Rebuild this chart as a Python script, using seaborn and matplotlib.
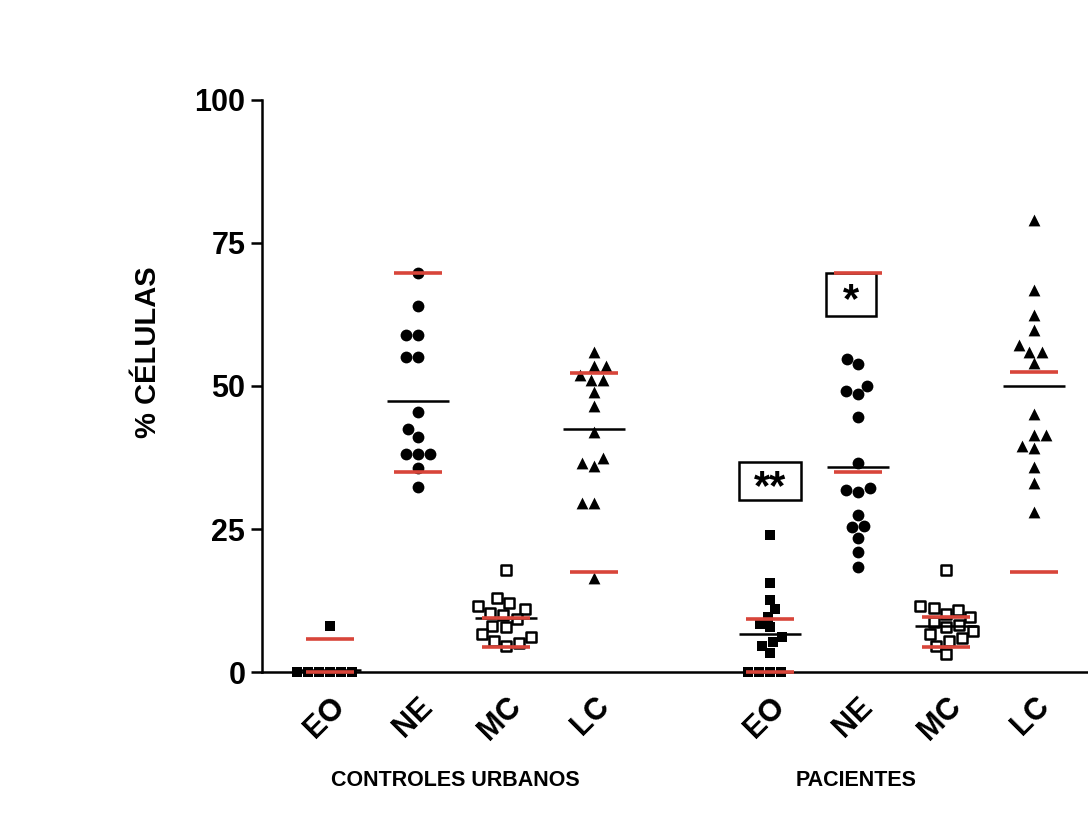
import numpy as np
import pandas as pd
import seaborn as sns
import matplotlib.pyplot as plt
from matplotlib.patches import Rectangle
from matplotlib.transforms import blended_transform_factory

sns.set_theme(style="ticks")
plt.rcParams['font.family'] = ['Liberation Sans', 'DejaVu Sans']
plt.rcParams['font.weight'] = 'bold'
for key in ["text.color", "axes.labelcolor", "xtick.color", "ytick.color", "axes.edgecolor"]:
    plt.rcParams[key] = "black"

# cell types and study groups
cell_types = ["EO", "NE", "MC", "LC"]
groups = ["CONTROLES URBANOS", "PACIENTES"]

# percentage of each cell type per subject
ctrl_eo = [8.0, 0.0, 0.0, 0.0, 0.0, 0.0, 0.0]
ctrl_ne = [69.8, 63.9, 58.9, 58.9, 55.0, 55.0, 45.4, 42.4, 41.1, 38.2, 38.2, 38.2, 35.6, 32.4]
ctrl_mc = [17.8, 13.0, 12.0, 11.5, 11.0, 10.3, 10.0, 9.2, 8.0, 7.8, 6.6, 6.2, 5.5, 5.0, 4.6]
ctrl_lc = [56.0, 53.5, 53.5, 52.0, 51.0, 51.0, 49.0, 46.5, 42.0, 37.5, 36.5, 36.0, 29.5, 29.5, 16.5]

pac_eo = [24.0, 15.5, 12.6, 11.0, 9.6, 8.4, 7.8, 6.1, 5.2, 4.6, 3.3, 0.0, 0.0, 0.0, 0.0]
pac_ne = [54.8, 53.8, 50.0, 49.2, 48.6, 44.5, 36.6, 32.1, 31.8, 31.5, 27.4, 25.5, 25.3, 23.5, 21.0, 18.4]
pac_mc = [17.8, 11.6, 11.2, 10.8, 10.2, 9.6, 8.8, 8.2, 7.8, 7.2, 6.6, 5.9, 5.4, 4.6, 3.1]
pac_lc = [79.1, 66.7, 62.4, 59.8, 57.1, 55.9, 55.9, 54.0, 45.1, 41.4, 41.4, 39.5, 39.1, 35.9, 33.0, 28.0]

# group means (black lines)
ctrl_means = [0.4, 47.4, 9.4, 42.5]
pac_means = [6.6, 35.8, 8.0, 50.0]

# reference limits (red lines): lower, upper
ctrl_ref_low = [0.0, 34.9, 4.4, 17.4]
ctrl_ref_high = [5.8, 69.8, 9.5, 52.2]
pac_ref_low = [0.0, 34.9, 4.4, 17.5]
pac_ref_high = [9.3, 69.7, 9.7, 52.4]

# significance marks for the patient group: (cell type, centre value, text)
sig_marks = [("EO", 33.4, "**"), ("NE", 66.0, "*")]

data = {
    groups[0]: [ctrl_eo, ctrl_ne, ctrl_mc, ctrl_lc],
    groups[1]: [pac_eo, pac_ne, pac_mc, pac_lc],
}

rows = []
for g, series in data.items():
    for t, vals in zip(cell_types, series):
        for v in vals:
            rows.append({"grupo": g, "tipo": t, "valor": v, "slot": f"{g}|{t}"})
df = pd.DataFrame(rows)

# two blocks of four columns with an empty slot between them
order = [f"{groups[0]}|{t}" for t in cell_types] + [""] + [f"{groups[1]}|{t}" for t in cell_types]

fig = plt.figure(figsize=(10.88, 8.31), dpi=100)
ax = fig.add_axes([0.2408, 0.1913, 0.7592, 0.6884])

marker_style = {
    "EO": dict(marker="s", color="black", linewidth=0, size=7.5),
    "NE": dict(marker="o", color="black", linewidth=0, size=8.5),
    "MC": dict(marker="s", color="white", edgecolor="black", linewidth=1.8, size=7.5),
    "LC": dict(marker="^", color="black", linewidth=0, size=8.5),
}

for t in cell_types:
    sub = df[df["tipo"] == t]
    sns.swarmplot(data=sub, x="slot", y="valor", order=order, ax=ax, zorder=3,
                  **marker_style[t])

for coll in ax.collections:
    coll.set_clip_on(False)

red = "#d8453a"
for g, means, lows, highs in [
    (groups[0], ctrl_means, ctrl_ref_low, ctrl_ref_high),
    (groups[1], pac_means, pac_ref_low, pac_ref_high),
]:
    for t, m, lo, hi in zip(cell_types, means, lows, highs):
        i = order.index(f"{g}|{t}")
        ax.hlines([lo, hi], i - 0.27, i + 0.27, colors=red, linewidth=2.6, zorder=6, clip_on=False)
        ax.hlines(m, i - 0.35, i + 0.35, colors="black", linewidth=1.8, zorder=4, clip_on=False)

# boxed significance asterisks
box_size = {"**": (0.70, 6.6, 0.0), "*": (0.57, 7.5, -0.08)}
for t, y, txt in sig_marks:
    w, h, dx = box_size[txt]
    i = order.index(f"{groups[1]}|{t}") + dx
    ax.add_patch(Rectangle((i - w / 2, y - h / 2), w, h, facecolor="white",
                           edgecolor="black", linewidth=1.8, zorder=5))
    fs = 30
    ax.annotate(txt, xy=(i, y), xytext=(0, -0.43 * fs), textcoords="offset points",
                ha="center", va="baseline", fontsize=fs, fontweight="bold", zorder=5)

ax.set_xlim(-0.773, 8.614)
ax.set_ylim(0, 100)
ax.set_yticks([0, 25, 50, 75, 100])
ax.set_yticklabels(["0", "25", "50", "75", "100"], fontsize=22, fontweight="bold")

tick_pos = [order.index(s) for s in order if s]
tick_lab = [s.split("|")[1] for s in order if s]
ax.set_xticks(tick_pos)
ax.set_xticklabels(tick_lab, rotation=45, ha="right", rotation_mode="anchor",
                   fontsize=22, fontweight="bold")
ax.tick_params(axis="x", length=0, pad=14)
ax.tick_params(axis="y", length=8, width=1.8, pad=4)

ax.set_xlabel("")
ax.set_ylabel("% CÉLULAS", fontsize=21, fontweight="bold")
ax.yaxis.set_label_coords(-0.121, 0.559)

for side in ["top", "right"]:
    ax.spines[side].set_visible(False)
for side in ["left", "bottom"]:
    ax.spines[side].set_linewidth(1.8)
    ax.spines[side].set_color("black")

trans = blended_transform_factory(ax.transData, ax.transAxes)
ax.text(1.42, -0.19, groups[0], transform=trans, ha="center", va="center",
        fontsize=15.5, fontweight="bold")
ax.text(5.98, -0.19, groups[1], transform=trans, ha="center", va="center",
        fontsize=15.5, fontweight="bold")

fig.savefig("out.png", dpi=100, facecolor="white")
